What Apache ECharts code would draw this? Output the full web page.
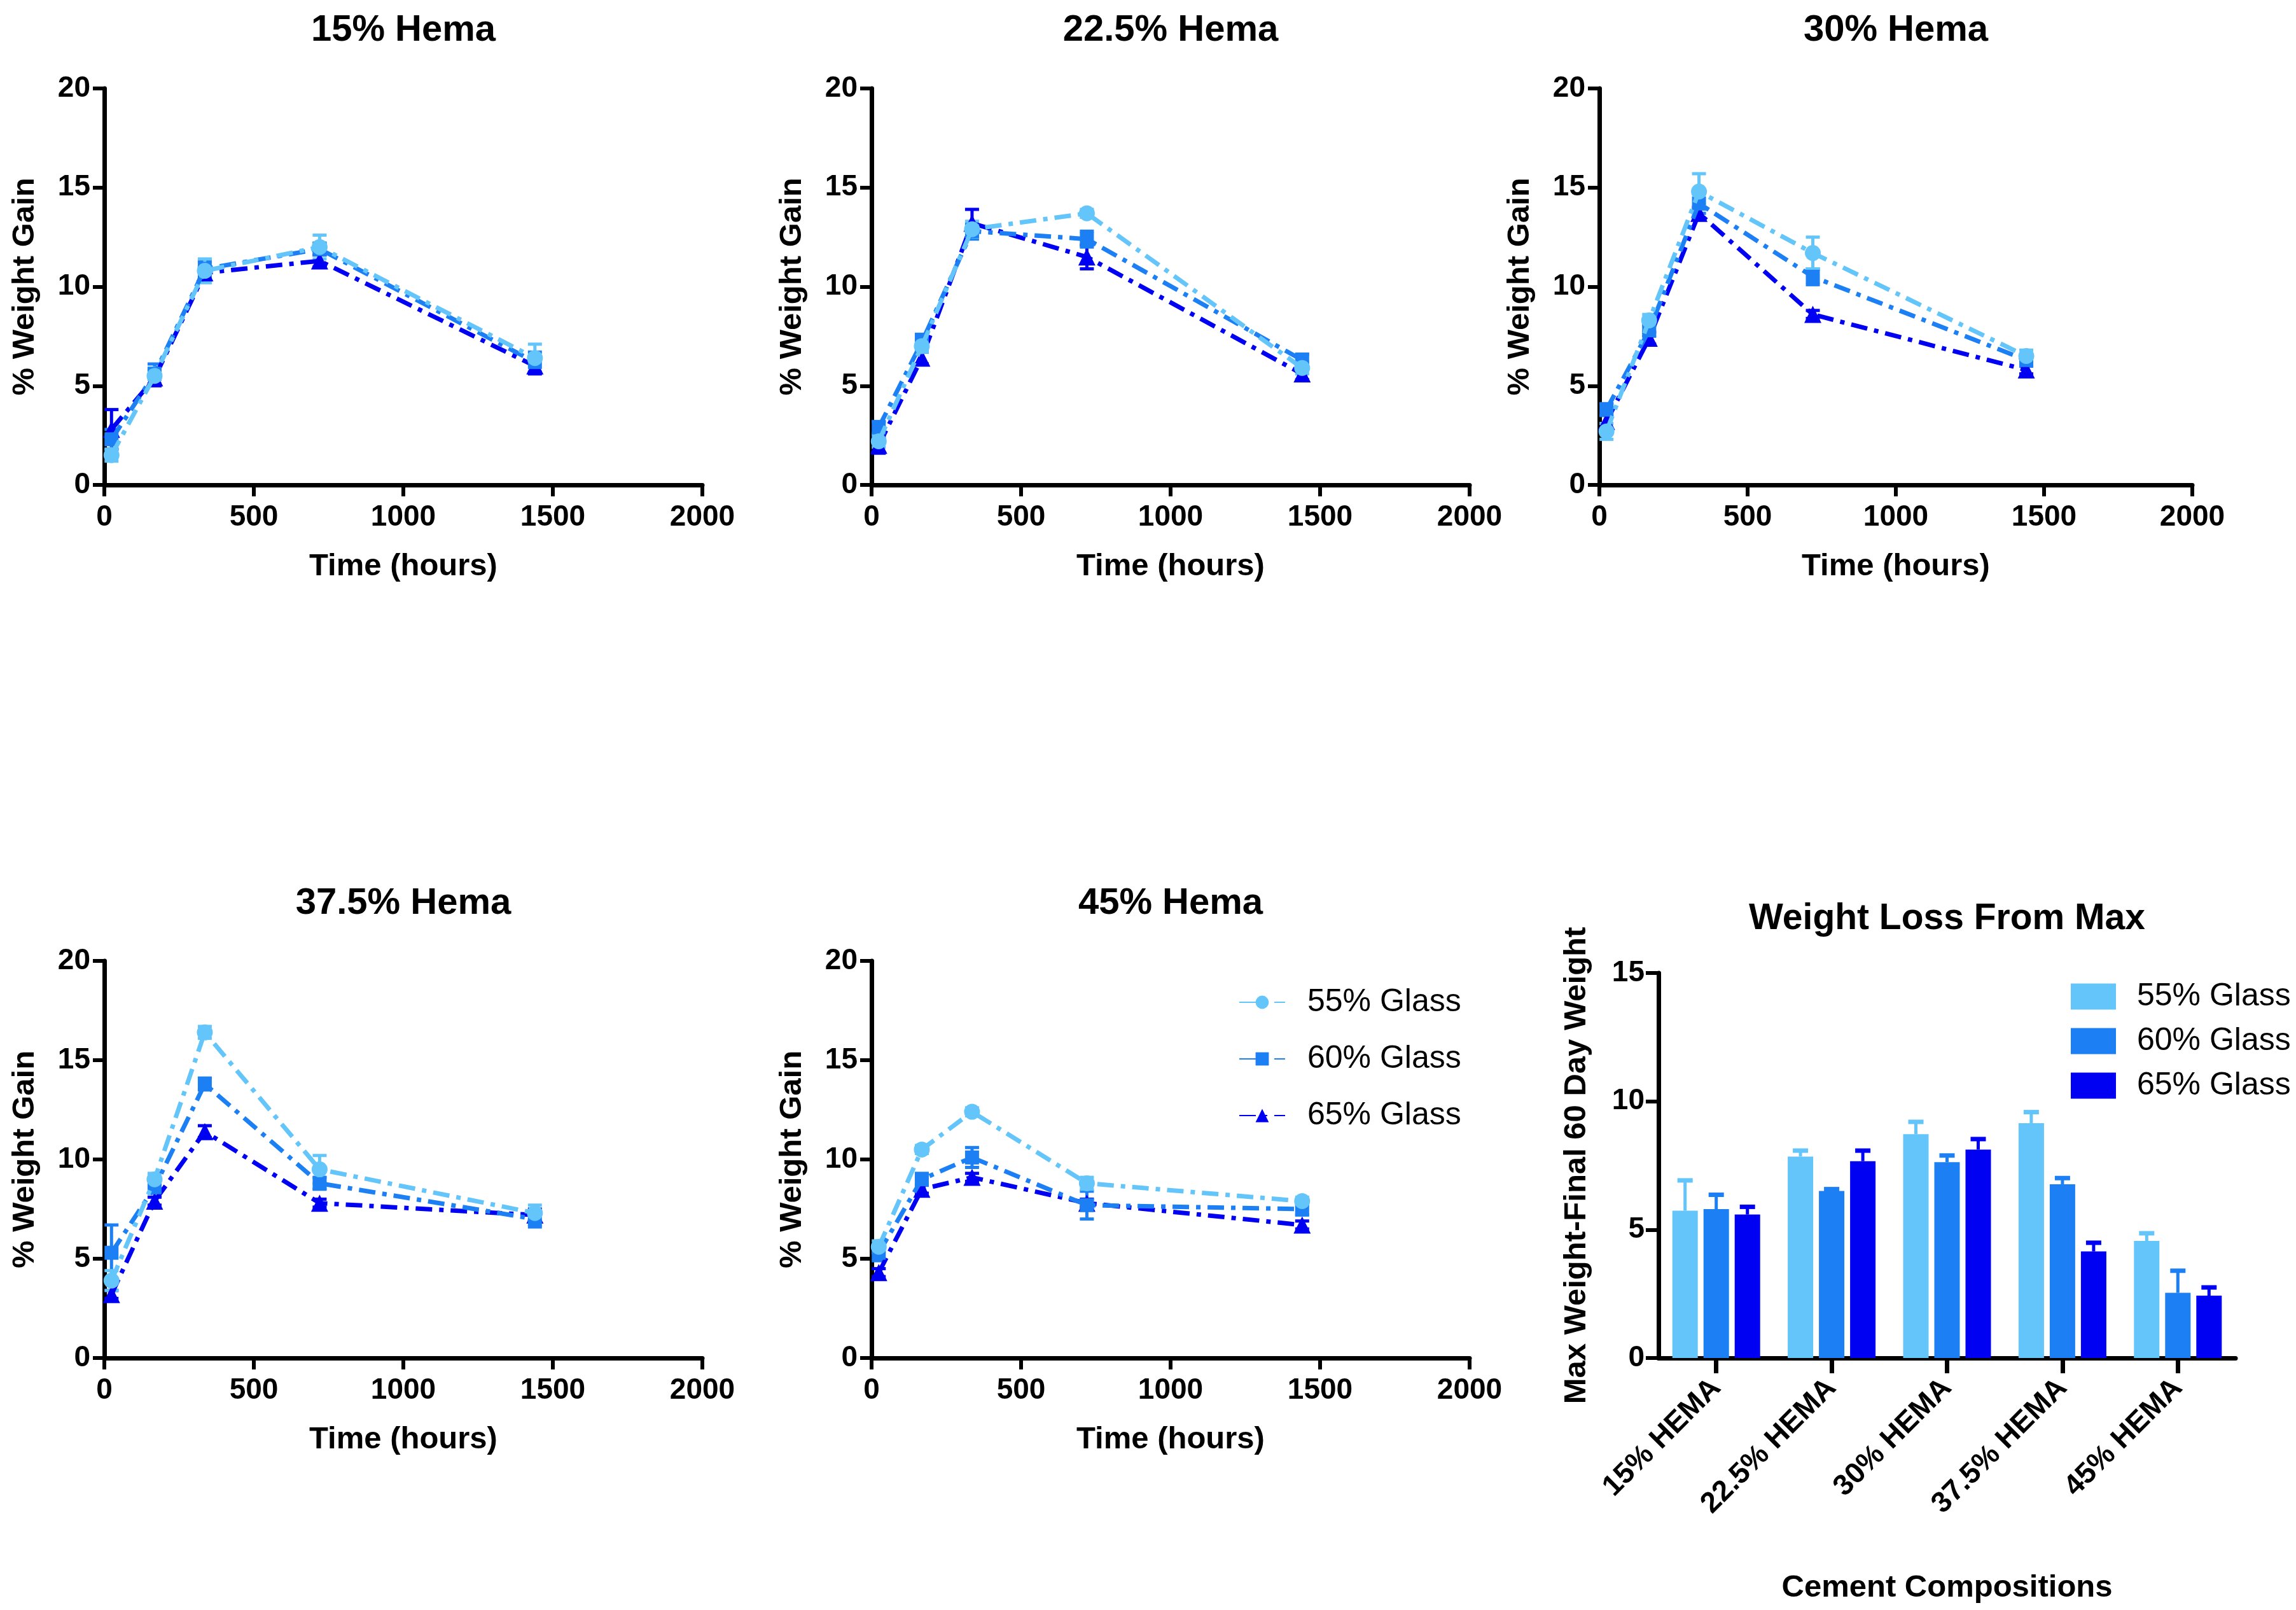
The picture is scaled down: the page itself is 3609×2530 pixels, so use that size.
<!DOCTYPE html>
<html><head><meta charset="utf-8">
<script src="https://cdn.jsdelivr.net/npm/echarts@6/dist/echarts.min.js"></script>
<style>html,body{margin:0;padding:0;background:#fff}#c{width:3609px;height:2530px}</style>
</head><body><div id="c"></div>
<script>
// ---------- DATA ----------
const times = [24, 168, 336, 720, 1440];           // hours
const glassNames = ['55% Glass', '60% Glass', '65% Glass'];
const panelTitles = ['15% Hema', '22.5% Hema', '30% Hema', '37.5% Hema', '45% Hema'];
const xTickValues = [0, 500, 1000, 1500, 2000];
const yTickValues = [0, 5, 10, 15, 20];

// rows: 55% glass, 60% glass, 65% glass
const gain15  = [[1.5, 5.5, 10.8, 12.0, 6.4], [2.3, 5.6, 10.9, 11.9, 6.2], [2.8, 5.4, 10.7, 11.3, 6.0]];
const err15   = [[0.3, 0.4, 0.6, 0.6, 0.7], [0.5, 0.5, 0.4, 0.3, 0.5], [1.0, 0.4, 0.3, 0.3, 0.4]];
const gain225 = [[2.2, 7.0, 12.9, 13.7, 5.9], [2.9, 7.2, 12.8, 12.4, 6.3], [2.0, 6.4, 13.2, 11.5, 5.6]];
const err225  = [[0.3, 0.3, 0.4, 0.2, 0.3], [0.3, 0.4, 0.4, 0.4, 0.3], [0.4, 0.3, 0.7, 0.6, 0.3]];
const gain30  = [[2.7, 8.3, 14.8, 11.7, 6.5], [3.8, 7.8, 14.2, 10.5, 6.3], [3.2, 7.4, 13.7, 8.6, 5.8]];
const err30   = [[0.4, 0.3, 0.9, 0.8, 0.3], [0.3, 0.3, 0.5, 0.4, 0.3], [0.5, 0.3, 0.3, 0.2, 0.2]];
const gain375 = [[3.9, 9.0, 16.4, 9.5, 7.3], [5.3, 8.6, 13.8, 8.8, 7.0], [3.2, 7.9, 11.4, 7.8, 7.2]];
const err375  = [[0.5, 0.3, 0.3, 0.7, 0.4], [1.4, 0.3, 0.3, 0.3, 0.4], [0.2, 0.2, 0.3, 0.2, 0.3]];
const gain45  = [[5.6, 10.5, 12.4, 8.8, 7.9], [5.3, 9.0, 10.1, 7.7, 7.5], [4.3, 8.5, 9.1, 7.8, 6.7]];
const err45   = [[0.3, 0.2, 0.2, 0.3, 0.2], [0.4, 0.3, 0.5, 0.7, 0.3], [0.2, 0.2, 0.2, 0.2, 0.2]];

const barCategories = ['15% HEMA', '22.5% HEMA', '30% HEMA', '37.5% HEMA', '45% HEMA'];
const loss55 = [5.74, 7.85, 8.72, 9.15, 4.56];
const loss60 = [5.80, 6.51, 7.63, 6.77, 2.54];
const loss65 = [5.59, 7.67, 8.12, 4.15, 2.43];
const lossErr55 = [1.18, 0.23, 0.48, 0.43, 0.30];
const lossErr60 = [0.56, 0.07, 0.26, 0.24, 0.86];
const lossErr65 = [0.30, 0.41, 0.41, 0.34, 0.32];
const barTicks = [0, 5, 10, 15];

// ---------- STYLE / LAYOUT ----------
const FONT = 'Liberation Sans, Arial, Helvetica, sans-serif';
const colors = ['#63C5FA', '#1C80F4', '#0000F2'];
const symbols = ['circle', 'rect', 'triangle'];
const symbolSizes = [25, 22, 27];
const gainPanels = [gain15, gain225, gain30, gain375, gain45];
const errPanels = [err15, err225, err30, err375, err45];
const barVals = [loss55, loss60, loss65];
const barErrs = [lossErr55, lossErr60, lossErr65];

const grids = [
  {left: 164, top: 139, width: 940, height: 623},
  {left: 1370, top: 139, width: 940, height: 623},
  {left: 2514, top: 139, width: 932, height: 623},
  {left: 164, top: 1510, width: 940, height: 624},
  {left: 1370, top: 1510, width: 940, height: 624},
  {left: 2607, top: 1529, width: 907, height: 605}
];
const titleY = [48, 48, 48, 1420, 1420, 1444];

const axisLine = {show: true, lineStyle: {color: '#000', width: 7}};
const axisTick = {show: true, length: 18, lineStyle: {color: '#000', width: 6}};
const tickLabel = {color: '#000', fontFamily: FONT, fontWeight: 'bold', fontSize: 46};
const nameStyle = {color: '#000', fontFamily: FONT, fontWeight: 'bold', fontSize: 49};

const xAxes = [], yAxes = [], series = [], graphics = [];

for (let p = 0; p < 5; p++) {
  xAxes.push({
    type: 'value', gridIndex: p, min: xTickValues[0], max: xTickValues[xTickValues.length - 1],
    interval: xTickValues[1] - xTickValues[0],
    axisLine, axisTick, splitLine: {show: false},
    axisLabel: Object.assign({margin: 28, formatter: v => String(v)}, tickLabel),
    name: 'Time (hours)', nameLocation: 'middle', nameGap: 104, nameTextStyle: nameStyle
  });
  yAxes.push({
    type: 'value', gridIndex: p, min: yTickValues[0], max: yTickValues[yTickValues.length - 1],
    interval: yTickValues[1] - yTickValues[0],
    axisLine, axisTick, splitLine: {show: false},
    axisLabel: Object.assign({margin: 22}, tickLabel),
    name: '% Weight Gain', nameLocation: 'middle', nameGap: 100, nameRotate: 90, nameTextStyle: nameStyle
  });
  for (let k = 0; k < 3; k++) {
    series.push({
      type: 'custom', name: 'err-' + p + '-' + k, xAxisIndex: p, yAxisIndex: p,
      itemStyle: {color: colors[k]}, z: 3 + (2 - k) * 0.1, clip: false,
      data: times.map((t, i) => [t, gainPanels[p][k][i], errPanels[p][k][i]]),
      renderItem: function (params, api) {
        const x = api.value(0), y = api.value(1), e = api.value(2);
        const lo = api.coord([x, y - e]), hi = api.coord([x, y + e]);
        const c = colors[k], hw = 11, st = {stroke: c, lineWidth: 5};
        return {type: 'group', children: [
          {type: 'line', shape: {x1: lo[0], y1: lo[1], x2: hi[0], y2: hi[1]}, style: st},
          {type: 'line', shape: {x1: lo[0] - hw, y1: lo[1], x2: lo[0] + hw, y2: lo[1]}, style: st},
          {type: 'line', shape: {x1: hi[0] - hw, y1: hi[1], x2: hi[0] + hw, y2: hi[1]}, style: st}
        ]};
      }
    });
    series.push({
      type: 'line', name: glassNames[k], xAxisIndex: p, yAxisIndex: p,
      data: times.map((t, i) => [t, gainPanels[p][k][i]]),
      symbol: symbols[k], symbolSize: symbolSizes[k], showSymbol: true,
      itemStyle: {color: colors[k]},
      lineStyle: {color: colors[k], width: 7, type: [26, 11, 7, 11]},
      z: 5 + (2 - k), clip: false
    });
  }
  const g = grids[p];
  graphics.push({
    type: 'text', x: g.left + g.width / 2, y: titleY[p],
    style: {text: panelTitles[p], font: 'bold 58px ' + FONT, fill: '#000',
      align: 'center', verticalAlign: 'middle', textAlign: 'center', textVerticalAlign: 'middle'}
  });
}

// bar panel
const barWidth = 40, barGapPx = 9;
xAxes.push({
  type: 'category', gridIndex: 5, data: barCategories,
  axisLine, axisTick: {show: true, alignWithLabel: true, length: 24, lineStyle: {color: '#000', width: 7}},
  axisLabel: Object.assign({rotate: 45, margin: 40, interval: 0}, tickLabel),
  name: 'Cement Compositions', nameLocation: 'middle', nameGap: 337, nameTextStyle: nameStyle
});
yAxes.push({
  type: 'value', gridIndex: 5, min: barTicks[0], max: barTicks[barTicks.length - 1],
  interval: barTicks[1] - barTicks[0],
  axisLine, axisTick: {show: true, length: 20, lineStyle: {color: '#000', width: 6}},
  splitLine: {show: false},
  axisLabel: Object.assign({margin: 22}, tickLabel),
  name: 'Max Weight-Final 60 Day Weight', nameLocation: 'middle', nameGap: 104, nameRotate: 90,
  nameTextStyle: nameStyle
});
for (let k = 0; k < 3; k++) {
  series.push({
    type: 'bar', name: 'Bar ' + glassNames[k], xAxisIndex: 5, yAxisIndex: 5,
    data: barVals[k], barWidth: barWidth, barGap: (barGapPx / barWidth * 100) + '%',
    itemStyle: {color: colors[k]}, z: 2
  });
}
for (let k = 0; k < 3; k++) {
  series.push({
    type: 'custom', name: 'barerr-' + k, xAxisIndex: 5, yAxisIndex: 5, z: 3,
    data: barCategories.map((c, i) => [i, barVals[k][i], barErrs[k][i]]),
    renderItem: function (params, api) {
      const i = api.value(0), v = api.value(1), e = api.value(2);
      const base = api.coord([i, v]), top = api.coord([i, v + e]);
      const off = (k - 1) * (barWidth + barGapPx);
      const x = base[0] + off, hw = 12, st = {stroke: colors[k], lineWidth: 5};
      return {type: 'group', children: [
        {type: 'line', shape: {x1: x, y1: base[1], x2: x, y2: top[1]}, style: st},
        {type: 'line', shape: {x1: x - hw, y1: top[1], x2: x + hw, y2: top[1]}, style: {stroke: colors[k], lineWidth: 7}}
      ]};
    }
  });
}
graphics.push({
  type: 'text', x: grids[5].left + grids[5].width / 2, y: titleY[5],
  style: {text: 'Weight Loss From Max', font: 'bold 57px ' + FONT, fill: '#000',
    align: 'center', verticalAlign: 'middle', textAlign: 'center', textVerticalAlign: 'middle'}
});

const option = {
  animation: false,
  backgroundColor: '#fff',
  grid: grids.map(g => Object.assign({containLabel: false}, g)),
  xAxis: xAxes,
  yAxis: yAxes,
  legend: [
    {
      data: glassNames, orient: 'vertical', left: 1942, top: 1545,
      itemWidth: 72, itemHeight: 26, itemGap: 39,
      textStyle: {fontFamily: FONT, fontSize: 50, color: '#000', padding: [0, 0, 0, 30]}
    },
    {
      data: glassNames.map(n => 'Bar ' + n), orient: 'vertical', left: 3250, top: 1536,
      icon: 'rect', itemWidth: 71, itemHeight: 41, itemGap: 20,
      formatter: n => n.replace('Bar ', ''),
      textStyle: {fontFamily: FONT, fontSize: 50, color: '#000', padding: [0, 0, 0, 28]}
    }
  ],
  graphic: graphics,
  series: series
};
const chart = echarts.init(document.getElementById('c'), null, {renderer: 'canvas'});
chart.setOption(option);
</script></body></html>
